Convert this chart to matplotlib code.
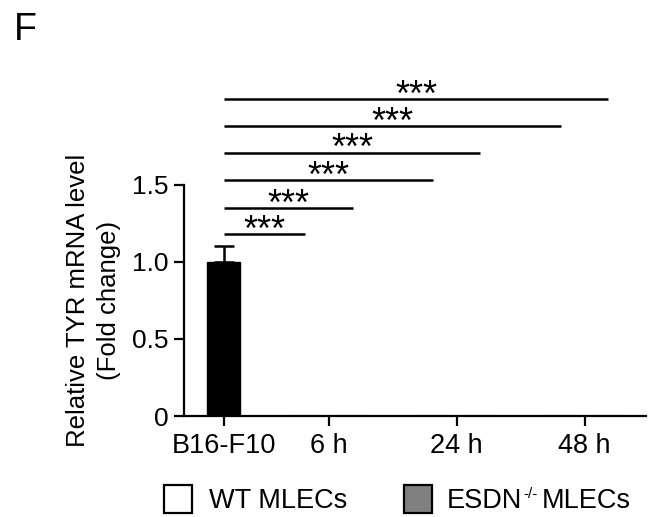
import matplotlib
matplotlib.use("Agg")
import matplotlib.pyplot as plt
from matplotlib.patches import Rectangle
from matplotlib.transforms import blended_transform_factory

plt.rcParams['font.family'] = ['Liberation Sans', 'DejaVu Sans']

# ---- data ----
groups = ["B16-F10", "6 h", "24 h", "48 h"]
b16_value = 1.0
b16_err = 0.10
wt_values = [0.0, 0.0, 0.0]
wt_errs = [0.0, 0.0, 0.0]
esdn_values = [0.0, 0.0, 0.0]
esdn_errs = [0.0, 0.0, 0.0]
sig_labels = ["***", "***", "***", "***", "***", "***"]
sig_heights = [1.18, 1.35, 1.53, 1.71, 1.88, 2.06]

# ---- layout ----
group_pos = [0.0, 3.18, 7.06, 10.94]
off = 0.72
width = 1.0
FS = 19.5

fig = plt.figure(figsize=(6.48, 5.17), dpi=100)
ax = fig.add_axes([184/648, 1-416/517, (646-184)/648, (416-77)/517])

ax.bar(group_pos[0], b16_value, width, color='black', edgecolor='black', zorder=2)
ax.errorbar(group_pos[0], b16_value, yerr=[[0], [b16_err]], fmt='none', ecolor='black',
            elinewidth=1.8, capsize=7, capthick=1.8, zorder=3)
wt_x = [g - off for g in group_pos[1:]]
es_x = [g + off for g in group_pos[1:]]
ax.bar(wt_x, wt_values, width, yerr=wt_errs, color='white', edgecolor='black', linewidth=1.5, zorder=2)
ax.bar(es_x, esdn_values, width, yerr=esdn_errs, color='#808080', edgecolor='black', linewidth=1.5, zorder=2)

ends = [wt_x[0], es_x[0], wt_x[1], es_x[1], wt_x[2], es_x[2]]
for end, h, lab in zip(ends, sig_heights, sig_labels):
    ax.plot([group_pos[0], end], [h, h], color='black', lw=1.8, clip_on=False, solid_capstyle='butt')
    xc = (group_pos[0] + end) / 2
    ax.annotate(lab, (xc, h), xytext=(0, -5), textcoords='offset points',
                ha='center', va='baseline', fontsize=26,
                annotation_clip=False)

ax.set_xlim(-1.21, 12.8)
ax.set_ylim(0, 2.2)
for s in ['top', 'right']:
    ax.spines[s].set_visible(False)
ax.spines['left'].set_bounds(0, 1.5)
ax.spines['left'].set_linewidth(1.6)
ax.spines['bottom'].set_linewidth(1.6)
ax.set_yticks([0, 0.5, 1.0, 1.5])
ax.set_yticklabels(["0", "0.5", "1.0", "1.5"])
ax.set_xticks(group_pos)
ax.set_xticklabels(groups)
ax.tick_params(axis='both', labelsize=FS, width=1.6, length=7, direction='out')
ax.tick_params(axis='x', pad=5)
ax.tick_params(axis='y', pad=4, labelsize=19)

tr = blended_transform_factory(fig.transFigure, ax.transData)
fig.text(78/648, 0.75, "Relative TYR mRNA level", rotation=90, ha='center', va='center',
         fontsize=18.5, transform=tr)
fig.text(109/648, 0.75, "(Fold change)", rotation=90, ha='center', va='center',
         fontsize=18.5, transform=tr)

fig.text(14/648, 1-30/517, "F", fontsize=27, ha='left', va='center')

# legend
def box(x0, color):
    fig.add_artist(Rectangle((x0/648, 1-513/517), 28/648, 28/517, transform=fig.transFigure,
                             facecolor=color, edgecolor='black', linewidth=1.6))
box(164, 'white')
box(404, '#808080')
ly = 1 - 508/517
fig.text(209/648, ly, "WT MLECs", fontsize=FS, ha='left', va='baseline')
renderer = fig.canvas.get_renderer()
t1 = fig.text(447/648, ly, "ESDN", fontsize=FS, ha='left', va='baseline')
x1 = t1.get_window_extent(renderer).x1
t2 = fig.text((x1 + 1)/648, ly + 10/517, "-/-", fontsize=11, ha='left', va='baseline')
x2 = t2.get_window_extent(renderer).x1
fig.text((x2 + 4)/648, ly, "MLECs", fontsize=FS, ha='left', va='baseline')

fig.savefig("out.png", dpi=100)
